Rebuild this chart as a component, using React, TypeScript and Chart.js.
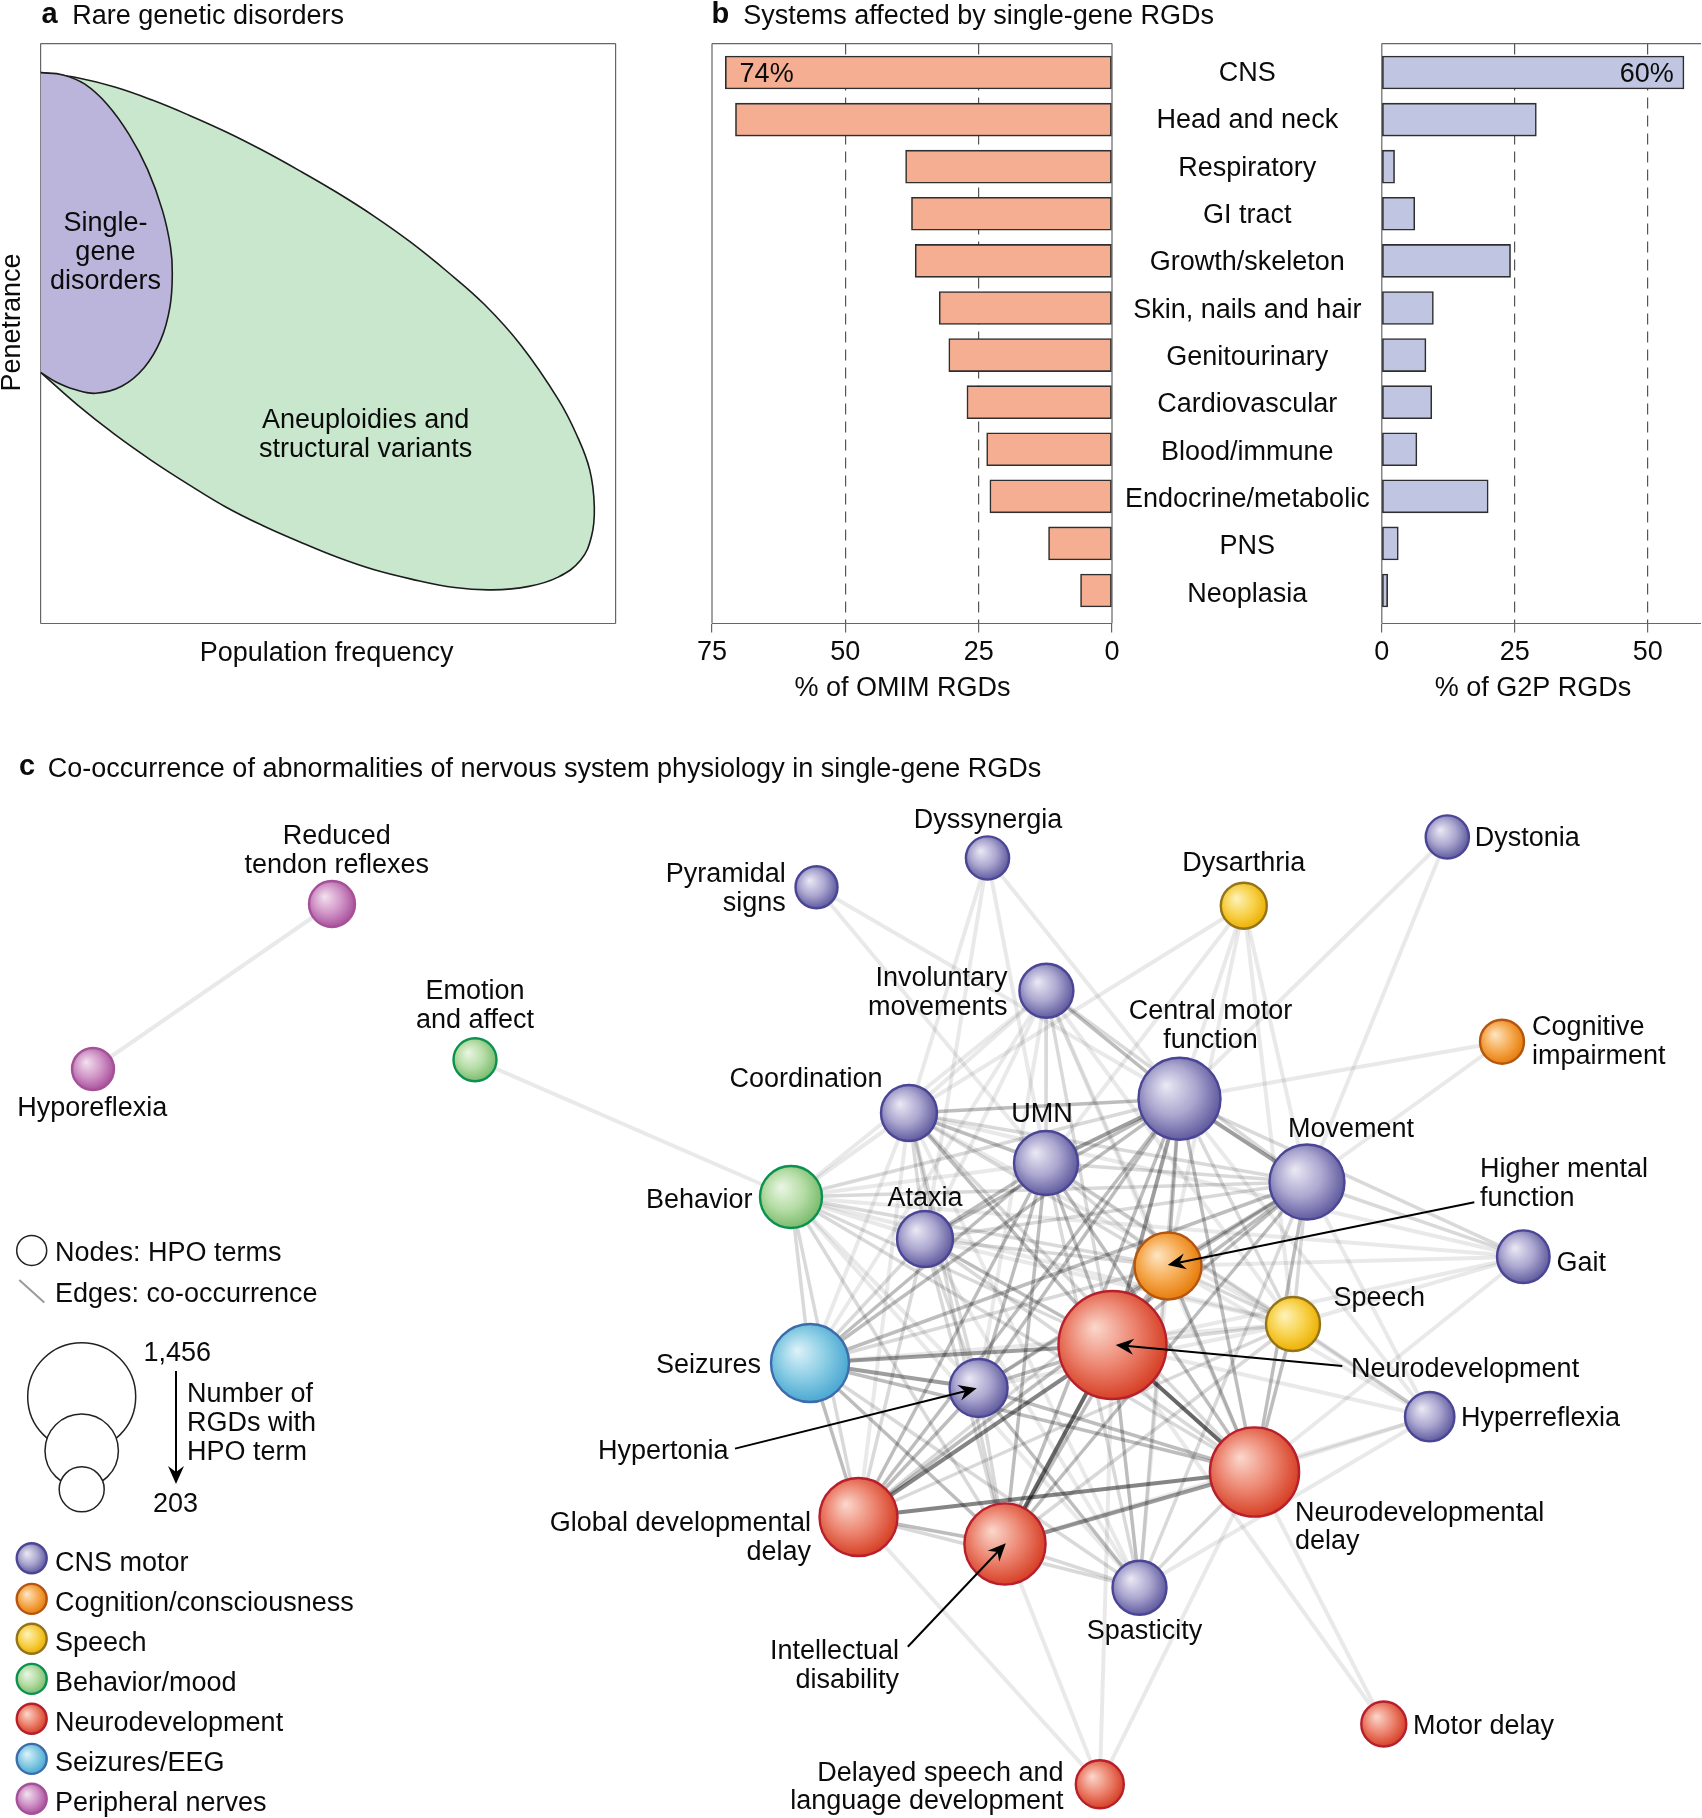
import React, { useEffect, useRef } from "react";
import { Chart, registerables } from "chart.js";

Chart.register(...registerables);

// ---------- panel a outlines (frequency %, penetrance %) ----------
const greenX = [0, 6.4, 12.9, 19.3, 25.7, 32.2, 38.6, 45.0, 51.4, 57.9, 64.3, 70.7, 77.2, 83.6, 90.0, 93.2, 95.5, 96.3, 95.8, 93.9, 90.0, 84.9, 78.5, 72.0, 64.3, 57.9, 51.4, 45.0, 38.6, 32.2, 25.7, 19.3, 12.9, 6.4, 0];
const greenY = [95.0, 94.1, 92.5, 90.3, 87.7, 84.8, 81.6, 78.1, 74.4, 70.3, 65.8, 60.7, 55.0, 47.9, 38.7, 32.6, 26.5, 20.1, 15.0, 10.9, 8.0, 6.4, 5.8, 6.2, 7.7, 9.3, 11.5, 14.1, 16.9, 20.1, 24.0, 28.1, 32.6, 37.7, 43.3];
const purpleX = [0, 3.9, 7.7, 11.6, 15.4, 18.6, 21.2, 22.6, 22.9, 22.5, 20.9, 18.0, 14.1, 9.6, 5.8, 2.6, 0];
const purpleY = [95.0, 94.6, 93.0, 89.5, 84.3, 78.3, 71.2, 64.9, 60.4, 54.6, 48.9, 44.1, 40.9, 39.7, 40.4, 41.7, 43.3];

// ---------- panel b ----------
const systems = ["CNS", "Head and neck", "Respiratory", "GI tract", "Growth/skeleton", "Skin, nails and hair", "Genitourinary", "Cardiovascular", "Blood/immune", "Endocrine/metabolic", "PNS", "Neoplasia"];
const omimValues = [72.5, 70.6, 38.7, 37.6, 36.9, 32.4, 30.6, 27.2, 23.5, 22.9, 11.9, 5.9];
const g2pValues = [56.8, 29.05, 2.4, 6.2, 24.2, 9.7, 8.3, 9.4, 6.6, 20.0, 3.1, 1.1];

// ---------- panel c network ----------
const nodeKeys = ["RTR", "Hypo", "Emo", "Pyr", "Dyss", "Dysar", "Dyst", "Invol", "CMF", "Coord", "UMN", "Beh", "Atax", "Move", "HMF", "Speech", "ND", "Seiz", "Hypert", "GDD", "ID", "NDD", "Spast", "Gait", "Hyperr", "CogImp", "Motor", "DelSp"];
const nodeX = [332, 93, 475, 816.5, 987.5, 1243.8, 1447.3, 1046.4, 1179.5, 909, 1046, 791, 925, 1307, 1168, 1293, 1112.5, 810, 978.6, 858.5, 1005, 1254.5, 1139.5, 1523.3, 1429.7, 1502, 1383.8, 1099.8];
const nodeY = [904, 1069, 1059.7, 887.3, 858, 905.7, 837, 990.7, 1098.7, 1113, 1163, 1197, 1239, 1182, 1266, 1324, 1345, 1363, 1388, 1517, 1544, 1472, 1587.7, 1256.7, 1416.7, 1041.7, 1724, 1784.3];
const nodeR = [23, 21, 21.5, 21, 21.6, 23, 21.6, 27, 41, 28, 32, 31, 28, 37.5, 33.5, 27, 54, 39, 29, 39, 40.6, 44.6, 27, 26.3, 24.7, 22, 22.5, 24];
const nodeGroup = [6, 6, 3, 0, 0, 2, 0, 0, 0, 0, 0, 3, 0, 0, 1, 2, 4, 5, 0, 4, 4, 4, 0, 0, 0, 1, 4, 4];

const groupNames = ["CNS motor", "Cognition/consciousness", "Speech", "Behavior/mood", "Neurodevelopment", "Seizures/EEG", "Peripheral nerves"];

const edgesW1 = ["RTR-Hypo", "Emo-Beh", "Pyr-CMF", "Pyr-UMN", "Dyss-Coord", "Dyss-UMN", "Dyss-CMF", "Dyss-Atax", "Dysar-Coord", "Dysar-CMF", "Dysar-UMN", "Dysar-Move", "Dysar-HMF", "Dysar-Speech", "Dyst-CMF", "Dyst-Move", "CogImp-CMF", "CogImp-Move", "Invol-Coord", "Invol-Atax", "Invol-Beh", "Invol-HMF", "Invol-NDD", "Invol-Seiz", "Invol-Hypert", "Invol-Speech", "CMF-Hyperr", "Coord-Seiz", "Coord-GDD", "Coord-Spast", "Coord-Speech", "Coord-Beh", "Coord-Gait", "UMN-Beh", "UMN-Hyperr", "Beh-Atax", "Beh-Speech", "Beh-Hypert", "Beh-Spast", "Beh-Gait", "Atax-Speech", "Atax-Spast", "Move-Hyperr", "HMF-Spast", "HMF-Gait", "HMF-Hyperr", "Speech-Seiz", "Speech-Hypert", "Speech-Gait", "ND-Hyperr", "ND-Gait", "ND-Motor", "GDD-DelSp", "ID-DelSp", "NDD-Hyperr", "NDD-Motor", "NDD-DelSp", "NDD-Gait", "ND-DelSp", "Hyperr-Spast", "Hyperr-ID"];
const edgesW2 = ["Invol-UMN", "Invol-Move", "Invol-ND", "CMF-Beh", "CMF-Speech", "CMF-Spast", "CMF-Gait", "Coord-Atax", "Coord-Move", "Coord-HMF", "Coord-Hypert", "Coord-ID", "Coord-NDD", "UMN-Move", "UMN-HMF", "UMN-Speech", "UMN-Spast", "Beh-Move", "Beh-HMF", "Beh-ND", "Beh-Seiz", "Beh-GDD", "Beh-ID", "Beh-NDD", "Atax-Move", "Atax-HMF", "Atax-Seiz", "Atax-Hypert", "Atax-GDD", "Atax-ID", "Atax-NDD", "Move-Speech", "Move-Spast", "Move-Gait", "HMF-Speech", "HMF-Seiz", "HMF-Hypert", "HMF-GDD", "Speech-ND", "Speech-GDD", "Speech-ID", "Speech-Hyperr", "Seiz-Spast", "Hypert-ID", "GDD-Spast", "ID-Spast", "NDD-Spast"];
const edgesW3 = ["Invol-CMF", "CMF-Coord", "CMF-Atax", "CMF-HMF", "CMF-Seiz", "CMF-Hypert", "CMF-GDD", "CMF-ID", "CMF-NDD", "Coord-UMN", "Coord-ND", "UMN-Atax", "UMN-ND", "UMN-Seiz", "UMN-Hypert", "UMN-GDD", "UMN-ID", "UMN-NDD", "Atax-ND", "Move-HMF", "Move-ND", "Move-Seiz", "Move-Hypert", "Move-GDD", "Move-ID", "Move-NDD", "HMF-ND", "HMF-ID", "HMF-NDD", "Speech-NDD", "ND-Hypert", "ND-Spast", "Seiz-GDD", "Seiz-ID", "Seiz-NDD", "Hypert-GDD", "Hypert-NDD", "Hypert-Spast", "GDD-ID"];
const edgesW4 = ["CMF-UMN", "CMF-Move", "CMF-ND", "ND-Seiz", "Seiz-Hypert", "ID-NDD"];
const edgesW5 = ["ND-GDD", "GDD-NDD"];
const edgesW6 = ["ND-ID", "ND-NDD"];

const sizeLegendCounts = ["1,456", "203"];

// ---------- style and layout ----------
const FONT = '"Liberation Sans", Arial, sans-serif';
const FS = 27;
const TXT = "#0b0b0b";
const FRAME = "#666";

const edgeStyle: Record<number, [string, number]> = {
  1: ["rgba(0,0,0,0.085)", 4],
  2: ["rgba(0,0,0,0.15)", 3.5],
  3: ["rgba(0,0,0,0.26)", 3.5],
  4: ["rgba(0,0,0,0.38)", 4],
  5: ["rgba(0,0,0,0.48)", 4],
  6: ["rgba(0,0,0,0.6)", 4],
};

const groupPaint = [
  { stops: ["#ece9f5", "#aaa6cf", "#5f5a9e"], line: "#4a4595" },
  { stops: ["#fde6c4", "#f6ac55", "#e67c0a"], line: "#b4560f" },
  { stops: ["#fdf3bd", "#f8d350", "#ecb000"], line: "#94741a" },
  { stops: ["#ebf6e4", "#b6dda6", "#79bb6d"], line: "#0a9150" },
  { stops: ["#fbd8cd", "#ec8570", "#d63f25"], line: "#b71f2d" },
  { stops: ["#dff2f9", "#8acde4", "#4aa7d2"], line: "#3d6cab" },
  { stops: ["#f3e2f0", "#d196c8", "#a9519b"], line: "#a55099" },
];

type T = [string, number, number, CanvasTextAlign?, string?];
const freeTexts: T[] = [
  ["a", 41.5, 23.1, "left", "bold"],
  ["Rare genetic disorders", 72.3, 24],
  ["Population frequency", 326.6, 660.5, "center"],
  ["Single-", 105.4, 231, "center"],
  ["gene", 105.4, 259.9, "center"],
  ["disorders", 105.4, 289, "center"],
  ["Aneuploidies and", 365.6, 427.9, "center"],
  ["structural variants", 365.6, 457, "center"],
  ["b", 711.5, 23.1, "left", "bold"],
  ["Systems affected by single-gene RGDs", 743.2, 24],
  ["74%", 739.6, 81.5],
  ["60%", 1673.8, 81.5, "right"],
  ["% of OMIM RGDs", 902.6, 696.3, "center"],
  ["% of G2P RGDs", 1533, 696.3, "center"],
  ["c", 19, 775, "left", "bold"],
  ["Co-occurrence of abnormalities of nervous system physiology in single-gene RGDs", 47.8, 776.5],
  ["Reduced", 336.7, 843.5, "center"],
  ["tendon reflexes", 336.7, 872.5, "center"],
  ["Hyporeflexia", 92.3, 1115.5, "center"],
  ["Emotion", 475, 999, "center"],
  ["and affect", 475, 1027.5, "center"],
  ["Behavior", 752.5, 1208.3, "right"],
  ["Pyramidal", 785.7, 881.7, "right"],
  ["signs", 785.7, 910.7, "right"],
  ["Dyssynergia", 988, 827.5, "center"],
  ["Dysarthria", 1243.8, 870.7, "center"],
  ["Dystonia", 1474.7, 845.5],
  ["Involuntary", 1007.5, 986, "right"],
  ["movements", 1007.5, 1015, "right"],
  ["Central motor", 1210.5, 1018.5, "center"],
  ["function", 1210.5, 1047.5, "center"],
  ["Cognitive", 1532, 1035],
  ["impairment", 1532, 1064],
  ["Coordination", 882.5, 1087, "right"],
  ["UMN", 1042, 1121.7, "center"],
  ["Movement", 1351, 1137, "center"],
  ["Higher mental", 1480, 1176.5],
  ["function", 1480, 1205.5],
  ["Ataxia", 925, 1206, "center"],
  ["Speech", 1333.5, 1306],
  ["Neurodevelopment", 1351, 1377],
  ["Gait", 1556.5, 1271],
  ["Hyperreflexia", 1461, 1425.5],
  ["Neurodevelopmental", 1295, 1520.7],
  ["delay", 1295, 1549.3],
  ["Seizures", 761, 1373, "right"],
  ["Hypertonia", 728.5, 1458.5, "right"],
  ["Global developmental", 811, 1531, "right"],
  ["delay", 811, 1560, "right"],
  ["Intellectual", 899, 1658.5, "right"],
  ["disability", 899, 1687.5, "right"],
  ["Spasticity", 1144.5, 1639, "center"],
  ["Delayed speech and", 1063.5, 1780.7, "right"],
  ["language development", 1063.5, 1809, "right"],
  ["Motor delay", 1413, 1733.5],
  ["Nodes: HPO terms", 55, 1261],
  ["Edges: co-occurrence", 55, 1301.7],
  [sizeLegendCounts[0], 143.5, 1361],
  ["Number of", 187, 1402.3],
  ["RGDs with", 187, 1431],
  ["HPO term", 187, 1459.8],
  [sizeLegendCounts[1], 153, 1511.8],
];

const legendSwatchY = [1558.3, 1598.9, 1638.7, 1678.9, 1718.7, 1758.9, 1798.7];
const legendTextY = [1571, 1611, 1651, 1691, 1731, 1771, 1811];
const sizeCircles = [
  { x: 81.7, y: 1396.7, r: 54 },
  { x: 81.7, y: 1450.7, r: 36.7 },
  { x: 81.7, y: 1489.3, r: 22.5 },
];
const nodeKeyCircle = { x: 31.7, y: 1250.4, r: 15 };
const arrows = [
  { from: [1474.3, 1202.3], to: [1167.7, 1265] },
  { from: [1342.3, 1366], to: [1115.7, 1345] },
  { from: [735, 1448.6], to: [976.7, 1388.3] },
  { from: [907.8, 1646.7], to: [1005.8, 1543.3] },
  { from: [176, 1371], to: [176, 1484] },
];

function sphere(c: any, g: number) {
  const p = groupPaint[g];
  const d = c.raw;
  const sc = c.chart.scales;
  if (!d || !sc || !sc.x || !sc.y) return p.stops[1];
  const cx = sc.x.getPixelForValue(d.x);
  const cy = sc.y.getPixelForValue(d.y);
  if (!Number.isFinite(cx) || !Number.isFinite(cy) || !Number.isFinite(d.r)) return p.stops[1];
  const gr = c.chart.ctx.createRadialGradient(cx - 0.33 * d.r, cy - 0.33 * d.r, 0, cx - 0.1 * d.r, cy - 0.1 * d.r, d.r * 1.12);
  gr.addColorStop(0, p.stops[0]);
  gr.addColorStop(0.55, p.stops[1]);
  gr.addColorStop(1, p.stops[2]);
  return gr;
}

const framePlugin = {
  id: "frame",
  beforeDatasetsDraw(chart: any, _a: any, o: any) {
    const { ctx, chartArea: a } = chart;
    ctx.save();
    ctx.strokeStyle = FRAME;
    ctx.lineWidth = 1.2;
    ctx.beginPath();
    ctx.moveTo(a.left, a.top);
    ctx.lineTo(a.right, a.top);
    ctx.moveTo(a.left, a.bottom);
    ctx.lineTo(a.right, a.bottom);
    ctx.moveTo(a.left, a.top);
    ctx.lineTo(a.left, a.bottom);
    if (o.rightSide !== false) {
      ctx.moveTo(a.right, a.top);
      ctx.lineTo(a.right, a.bottom);
    }
    ctx.stroke();
    ctx.restore();
  },
};

const annotationPlugin = {
  id: "annot",
  afterDatasetsDraw(chart: any) {
    const { ctx, scales } = chart;
    const X = (v: number) => scales.x.getPixelForValue(v);
    const Y = (v: number) => scales.y.getPixelForValue(v);
    ctx.save();
    ctx.strokeStyle = "#000";
    ctx.fillStyle = "#000";
    for (const a of arrows) {
      const x0 = X(a.from[0]), y0 = Y(a.from[1]), x1 = X(a.to[0]), y1 = Y(a.to[1]);
      const ang = Math.atan2(y1 - y0, x1 - x0);
      const L = 18, W = 8, N = 12;
      ctx.lineWidth = 2;
      ctx.beginPath();
      ctx.moveTo(x0, y0);
      ctx.lineTo(x1 - N * Math.cos(ang), y1 - N * Math.sin(ang));
      ctx.stroke();
      const ca = Math.cos(ang), sa = Math.sin(ang);
      ctx.beginPath();
      ctx.moveTo(x1, y1);
      ctx.lineTo(x1 - L * ca + W * sa, y1 - L * sa - W * ca);
      ctx.lineTo(x1 - N * ca, y1 - N * sa);
      ctx.lineTo(x1 - L * ca - W * sa, y1 - L * sa + W * ca);
      ctx.closePath();
      ctx.fill();
    }
    ctx.fillStyle = TXT;
    ctx.textBaseline = "alphabetic";
    const all: T[] = [...freeTexts, ...groupNames.map((n, i) => [n, 55, legendTextY[i]] as T)];
    for (const [t, x, y, al, w] of all) {
      ctx.font = `${w === "bold" ? "bold 29px" : FS + "px"} ${FONT}`;
      ctx.textAlign = al || "left";
      ctx.fillText(t, X(x), Y(y));
    }
    ctx.save();
    ctx.translate(X(20), Y(322.5));
    ctx.rotate(-Math.PI / 2);
    ctx.font = `${FS}px ${FONT}`;
    ctx.textAlign = "center";
    ctx.fillText("Penetrance", 0, 0);
    ctx.restore();
    ctx.restore();
  },
};

const base = {
  responsive: false,
  animation: false as const,
  devicePixelRatio: 1,
  events: [] as string[],
};

const pad = (l: number, t: number, r: number, b: number) => ({ left: l, top: t, right: r, bottom: b });
const AREA_TOP = 43.6;
const AREA_BOTTOM_GAP = 96.5;

function panelA(cv: HTMLCanvasElement) {
  const toXY = (xs: number[], ys: number[]) => xs.map((x, i) => ({ x, y: ys[i] }));
  return new Chart(cv, {
    type: "scatter",
    data: {
      datasets: [
        { data: toXY(purpleX, purpleY), showLine: true, order: 1, fill: "shape", backgroundColor: "#bbb5db", borderColor: "#1c1c1c", borderWidth: 1.6, pointRadius: 0, tension: 0.4 },
        { data: toXY(greenX, greenY), showLine: true, order: 2, fill: "shape", backgroundColor: "#c8e7cd", borderColor: "#1c1c1c", borderWidth: 1.6, pointRadius: 0, tension: 0.4 },
      ],
    },
    options: {
      ...base,
      layout: { autoPadding: false, padding: pad(40.6, AREA_TOP, 44.4, AREA_BOTTOM_GAP) },
      scales: { x: { display: false, min: 0, max: 100 }, y: { display: false, min: 0, max: 100 } },
      plugins: { legend: { display: false }, tooltip: { enabled: false }, frame: {} },
    } as any,
    plugins: [framePlugin],
  } as any);
}

const Y_MIN = -0.614;
const Y_MAX = 11.7;

function barOptions(reverse: boolean, xMax: number, left: number, right: number, rightSide: boolean, extraAxes: any) {
  return {
    ...base,
    indexAxis: "y",
    layout: { autoPadding: false, padding: pad(left, AREA_TOP, right, 0) },
    scales: {
      x: {
        type: "linear",
        reverse,
        min: 0,
        max: xMax,
        afterFit: (s: any) => { s.height = AREA_BOTTOM_GAP; },
        border: { display: false, dash: [11, 7] },
        grid: {
          color: (c: any) => (c.tick && (c.tick.value === 25 || c.tick.value === 50) ? "#555" : "rgba(0,0,0,0)"),
          tickColor: FRAME,
          tickLength: 9,
          tickBorderDash: [],
          lineWidth: 1.2,
        },
        ticks: { stepSize: 25, includeBounds: false, maxRotation: 0, padding: 4, color: TXT, font: { family: FONT, size: FS } },
      },
      y: { type: "linear", display: false, offset: false, grid: { offset: false }, min: Y_MIN, max: Y_MAX, reverse: true },
      ...extraAxes,
    },
    plugins: { legend: { display: false }, tooltip: { enabled: false }, frame: { rightSide } },
  };
}

function barChart(cv: HTMLCanvasElement, values: number[], color: string, opts: any) {
  return new Chart(cv, {
    type: "bar",
    data: {
      datasets: [{
        data: values.map((v, i) => ({ x: v, y: i })),
        backgroundColor: color,
        borderColor: "#2e2e2e",
        borderWidth: 1.6,
        borderSkipped: false,
        barThickness: 33,
      }],
    },
    options: opts,
    plugins: [framePlugin],
  } as any);
}

function network(cv: HTMLCanvasElement) {
  const idx = (k: string) => nodeKeys.indexOf(k);
  const edgeSets: any[] = [];
  ([[1, edgesW1], [2, edgesW2], [3, edgesW3], [4, edgesW4], [5, edgesW5], [6, edgesW6]] as [number, string[]][]).forEach(([w, list]) => {
    for (const e of list) {
      const [a, b] = e.split("-").map(idx);
      edgeSets.push({
        type: "line",
        order: 20 - w,
        data: [{ x: nodeX[a], y: nodeY[a] }, { x: nodeX[b], y: nodeY[b] }],
        borderColor: edgeStyle[w][0],
        borderWidth: edgeStyle[w][1],
        pointRadius: 0,
        fill: false,
        clip: false,
      });
    }
  });
  const nodeSets = groupNames.map((_, g) => {
    const pts: any[] = [];
    nodeX.forEach((x, i) => { if (nodeGroup[i] === g) pts.push({ x, y: nodeY[i], r: nodeR[i] }); });
    pts.push({ x: nodeKeyCircle.x, y: legendSwatchY[g], r: nodeKeyCircle.r });
    return {
      type: "bubble",
      order: 1,
      data: pts,
      backgroundColor: (c: any) => sphere(c, g),
      borderColor: groupPaint[g].line,
      borderWidth: 2.4,
      clip: false,
    };
  });
  const keySets = [
    { type: "line", order: 5, data: [{ x: 19.3, y: 1280 }, { x: 44.3, y: 1302.5 }], borderColor: "#9a9a9a", borderWidth: 2, pointRadius: 0, clip: false },
    { type: "bubble", order: 1, data: [nodeKeyCircle, ...sizeCircles], backgroundColor: "#fff", borderColor: "#222", borderWidth: 1.5, clip: false },
  ];
  return new Chart(cv, {
    type: "bubble",
    data: { datasets: [...nodeSets, ...keySets, ...edgeSets] },
    options: {
      ...base,
      layout: { autoPadding: false, padding: 0 },
      scales: {
        x: { type: "linear", display: false, min: 0, max: 1702 },
        y: { type: "linear", display: false, min: 0, max: 1818, reverse: true },
      },
      plugins: { legend: { display: false }, tooltip: { enabled: false } },
    } as any,
    plugins: [annotationPlugin],
  } as any);
}

const abs = (l: number, t: number): React.CSSProperties => ({ position: "absolute", left: l, top: t, display: "block" });

export default function App() {
  const a = useRef<HTMLCanvasElement>(null);
  const bl = useRef<HTMLCanvasElement>(null);
  const br = useRef<HTMLCanvasElement>(null);
  const c = useRef<HTMLCanvasElement>(null);
  useEffect(() => {
    const labelAxis = {
      yLabels: {
        axis: "y",
        type: "linear",
        position: "right",
        offset: false,
        min: -0.636,
        max: 11.62,
        reverse: true,
        afterFit: (s: any) => { s.width = 269; },
        border: { display: false },
        grid: { display: false, drawTicks: false, offset: false },
        ticks: {
          stepSize: 1,
          autoSkip: false,
          includeBounds: false,
          crossAlign: "center",
          padding: 13,
          color: TXT,
          font: { family: FONT, size: FS },
          callback: (v: number) => systems[v] ?? "",
        },
      },
    };
    const charts = [
      panelA(a.current!),
      barChart(bl.current!, omimValues, "#f5ae91", barOptions(true, 75, 32, 0, true, labelAxis)),
      barChart(br.current!, g2pValues, "#c0c6e1", barOptions(false, 60, 31.8, 1, false, {})),
      network(c.current!),
    ];
    return () => charts.forEach((ch) => ch.destroy());
  }, []);
  return (
    <div style={{ position: "absolute", left: 0, top: 0, width: 1702, height: 1818, overflow: "hidden", background: "#fff" }}>
      <canvas ref={a} width={660} height={720} style={abs(0, 0)} />
      <canvas ref={bl} width={701} height={720} style={abs(680, 0)} />
      <canvas ref={br} width={352} height={720} style={abs(1350, 0)} />
      <canvas ref={c} width={1702} height={1818} style={abs(0, 0)} />
    </div>
  );
}
